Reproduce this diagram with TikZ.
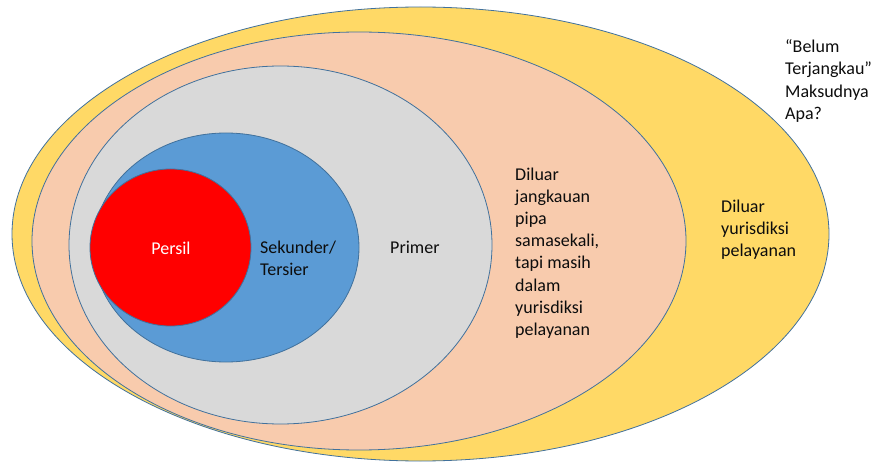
\documentclass[tikz,border=0pt]{standalone}
\usepackage{fontspec}
\setmainfont{Carlito}
\definecolor{cyellow}{HTML}{FFD966}
\definecolor{cpeach}{HTML}{F8CBAD}
\definecolor{cgrey}{HTML}{D9D9D9}
\definecolor{cblue}{HTML}{5B9BD5}
\definecolor{cred}{HTML}{FF0000}
\definecolor{cline}{HTML}{41719C}
\definecolor{ctext}{HTML}{0D0D0D}
\begin{document}
\begin{tikzpicture}[x=1pt,y=-1pt,
  ring/.style={draw=cline,line width=0.8pt},
  lbl/.style={inner sep=0pt,align=left,anchor=west,text=ctext,
    font=\fontsize{18}{22.2}\selectfont}]
\useasboundingbox (0,0) rectangle (877,462);
\fill[white] (0,0) rectangle (877,462);
\draw[ring,fill=cyellow] (420.5,234) ellipse [x radius=408.5pt, y radius=227pt];
\draw[ring,fill=cpeach] (359,241) ellipse [x radius=327pt, y radius=209pt];
\draw[ring,fill=cgrey] (280.5,245) ellipse [x radius=211.5pt, y radius=179pt];
\draw[ring,fill=cblue] (226,247.5) ellipse [x radius=133pt, y radius=114.5pt];
\draw[ring,fill=cred] (170.5,247.5) ellipse [x radius=80.5pt, y radius=78.5pt];
\node[lbl,anchor=center,text=white] (persil) at (171,248) {Persil};
\node[lbl] (sek) at (260,258) {Sekunder/\\Tersier};
\node[lbl] (prim) at (390,247) {Primer};
\node[lbl] (jang) at (515,253) {Diluar\\jangkauan\\pipa\\samasekali,\\tapi masih\\dalam\\yurisdiksi\\pelayanan};
\node[lbl] (yuri) at (721,230) {Diluar\\yurisdiksi\\pelayanan};
\node[lbl] (belum) at (785,81) {“Belum\\Terjangkau”\\Maksudnya\\Apa?};
\end{tikzpicture}
\end{document}
